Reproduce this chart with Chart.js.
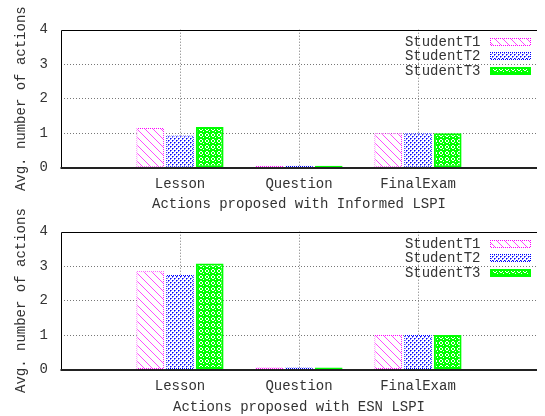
<!DOCTYPE html>
<html>
<head>
<meta charset="utf-8">
<script src="https://cdn.jsdelivr.net/npm/chart.js@4/dist/chart.umd.min.js"></script>
<style>
  html, body { margin: 0; padding: 0; background: #fff; overflow: hidden; }
  #wrap { position: relative; width: 545px; height: 416px; }
  canvas { position: absolute; left: 0; }
  #informed { top: 0; }
  #esn { top: 208px; }
</style>
</head>
<body>
<div id="wrap">
  <canvas id="informed" width="545" height="214"></canvas>
  <canvas id="esn" width="545" height="208"></canvas>
</div>
<script>
// Categories and per-student averages
const categories = ['Lesson', 'Question', 'FinalExam'];
const seriesNames = ['StudentT1', 'StudentT2', 'StudentT3'];

const informedT1 = [1.15, 0, 1.0];
const informedT2 = [0.93, 0, 1.0];
const informedT3 = [1.18, 0, 1.0];

const esnT1 = [2.85, 0, 1.0];
const esnT2 = [2.74, 0.05, 1.0];
const esnT3 = [3.08, 0, 1.0];

const yTicks = [0, 1, 2, 3, 4];

const FONT = { family: "'Liberation Mono', 'DejaVu Sans Mono', monospace", size: 14 };
const TEXT = '#333';

// Small repeating tiles used as fill / outline patterns
function makePattern(ctx, w, h, draw) {
  const c = document.createElement('canvas');
  c.width = w; c.height = h;
  const g = c.getContext('2d');
  draw(g);
  return ctx.createPattern(c, 'repeat');
}

function buildStyles(ctx) {
  const magenta = '#ff00ff', blue = '#0000ff', green = '#00ff00';
  const hatch = makePattern(ctx, 8, 8, g => {
    g.fillStyle = '#fff'; g.fillRect(0, 0, 8, 8);
    g.fillStyle = 'rgba(255,0,255,0.7)';
    for (let i = 0; i < 8; i++) g.fillRect(i, i, 1, 1);
  });
  const dotted = color => makePattern(ctx, 2, 2, g => {
    g.fillStyle = '#fff'; g.fillRect(0, 0, 2, 2);
    g.fillStyle = color; g.fillRect(0, 0, 1, 1); g.fillRect(1, 1, 1, 1);
  });
  const dots = makePattern(ctx, 4, 4, g => {
    g.fillStyle = '#fff'; g.fillRect(0, 0, 4, 4);
    g.fillStyle = blue;
    g.fillRect(0, 0, 1, 1); g.fillRect(2, 2, 1, 1);
    g.fillStyle = 'rgba(0,0,255,0.55)';
    g.fillRect(1, 0, 1, 1); g.fillRect(3, 2, 1, 1);
    g.fillRect(0, 1, 1, 1); g.fillRect(2, 3, 1, 1);
  });
  const rings = makePattern(ctx, 6, 6, g => {
    g.fillStyle = green; g.fillRect(0, 0, 6, 6);
    g.fillStyle = '#fff';
    [[2,1],[3,1],[1,2],[4,2],[1,3],[4,3],[2,4],[3,4],[5,5]].forEach(([x, y]) => g.fillRect(x, y, 1, 1));
  });
  return [
    { bg: hatch, border: dotted(magenta), bw: 1 },
    { bg: dots, border: dotted(blue), bw: 1 },
    { bg: rings, border: green, bw: 2 }
  ];
}

// Plot frame: left and top border, heavier baseline
const framePlugin = {
  id: 'frame',
  beforeDatasetsDraw(chart) {
    const { ctx, chartArea: a } = chart;
    const l = Math.round(a.left) + 0.5, t = Math.round(a.top) + 0.5;
    ctx.save();
    ctx.strokeStyle = '#000';
    ctx.lineWidth = 1;
    ctx.beginPath();
    ctx.moveTo(l, a.bottom);
    ctx.lineTo(l, t);
    ctx.lineTo(a.right, t);
    ctx.stroke();
    ctx.strokeStyle = '#222';
    ctx.lineWidth = 2;
    ctx.beginPath();
    ctx.moveTo(a.left - 0.5, Math.round(a.bottom));
    ctx.lineTo(a.right, Math.round(a.bottom));
    ctx.stroke();
    ctx.restore();
  }
};

// Key in the upper right: label first, then a swatch of the bar style
const keyPlugin = {
  id: 'key',
  afterDatasetsDraw(chart) {
    const { ctx, chartArea: a } = chart;
    ctx.save();
    ctx.font = `${FONT.size}px ${FONT.family}`;
    ctx.textAlign = 'right';
    ctx.textBaseline = 'middle';
    chart.data.datasets.forEach((ds, i) => {
      const y = a.top + 12.3 + i * 14.4;
      ctx.fillStyle = TEXT;
      ctx.fillText(ds.label, a.left + 419.5, y);
      const x0 = a.left + 429, w = 41, h = 8, y0 = Math.round(y - 4);
      ctx.fillStyle = ds.borderColor;
      ctx.fillRect(x0, y0, w, h);
      const b = ds.borderWidth;
      ctx.fillStyle = ds.backgroundColor;
      ctx.fillRect(x0 + b, y0 + b, w - 2 * b, h - 2 * b);
    });
    ctx.restore();
  }
};

function makeChart(canvasId, title, series, opts) {
  const canvas = document.getElementById(canvasId);
  const ctx = canvas.getContext('2d');
  const styles = buildStyles(ctx);
  const labels = ['', ...categories, ''];
  const datasets = series.map((vals, i) => ({
    label: seriesNames[i],
    data: [null, ...vals, null],
    backgroundColor: styles[i].bg,
    borderColor: styles[i].border,
    borderWidth: styles[i].bw,
    borderSkipped: false,
    minBarLength: 2,
    categoryPercentage: 0.75,
    barPercentage: 0.93
  }));
  return new Chart(ctx, {
    type: 'bar',
    data: { labels, datasets },
    options: {
      responsive: false,
      animation: false,
      events: [],
      layout: { padding: { top: opts.top, left: 0, right: 0, bottom: 0 } },
      plugins: { legend: { display: false }, tooltip: { enabled: false } },
      scales: {
        x: {
          offset: false,
          grid: {
            offset: false,
            drawTicks: false,
            color: c => (c.index >= 1 && c.index <= categories.length) ? '#777' : 'rgba(0,0,0,0)',
            lineWidth: 1
          },
          border: { display: false, dash: [1, 2] },
          ticks: { autoSkip: false, maxRotation: 0, padding: 8, color: TEXT, font: FONT },
          title: { display: true, text: title, color: TEXT, font: FONT, padding: { top: 0, bottom: opts.titlePad } },
          afterFit: s => { s.height = opts.xHeight; }
        },
        y: {
          min: 0,
          max: 4,
          afterBuildTicks: s => { s.ticks = yTicks.map(v => ({ value: v })); },
          grid: {
            drawTicks: false,
            color: c => (c.tick && c.tick.value > 0 && c.tick.value < 4) ? '#777' : 'rgba(0,0,0,0)',
            lineWidth: 1
          },
          border: { display: false, dash: [1, 2] },
          ticks: { padding: 13, color: TEXT, font: FONT },
          title: { display: true, text: 'Avg. number of actions', color: TEXT, font: FONT, padding: { top: 12.6, bottom: 0 } },
          afterFit: s => { s.width = 61; }
        }
      }
    },
    plugins: [framePlugin, keyPlugin]
  });
}

makeChart('informed', 'Actions proposed with Informed LSPI',
  [informedT1, informedT2, informedT3], { top: 29.7, xHeight: 46.3, titlePad: 1.6 });
makeChart('esn', 'Actions proposed with ESN LSPI',
  [esnT1, esnT2, esnT3], { top: 23.7, xHeight: 46.5, titlePad: 0.6 });
</script>
</body>
</html>
